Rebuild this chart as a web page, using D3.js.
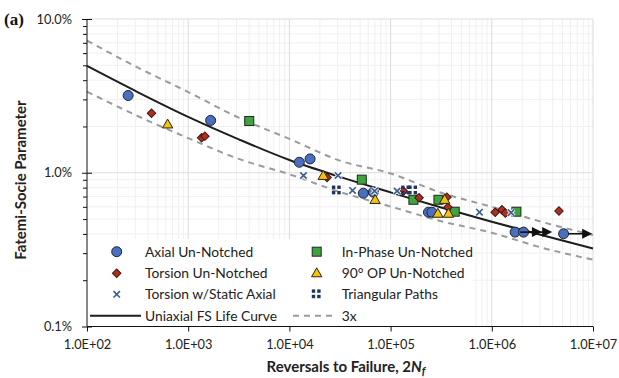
<!DOCTYPE html>
<html lang="en">
<head>
<meta charset="utf-8">
<script src="https://d3js.org/d3.v7.min.js"></script>
<style>
  body { margin: 0; background: #fff; }
  text { font-family: Lato, "Open Sans", sans-serif; fill: #222; }
</style>
</head>
<body>
<script>
var w = 619, h = 378;
var pLeft = 87, pRight = 593, pTop = 19, pBottom = 326.5;

// Uniaxial FS life curve and the 3x band
var curveN    = [1e2, 3.16e2, 1e3, 3.16e3, 1e4, 3.16e4, 1e5, 3.16e5, 1e6, 3.16e6, 1e7];
var curveFS   = [4.95, 3.35, 2.31, 1.65, 1.21, 0.94, 0.745, 0.594, 0.48, 0.392, 0.322];
var bandUpper = [7.24, 4.84, 3.35, 2.28, 1.66, 1.20, 0.99, 0.741, 0.60, 0.478, 0.394];
var bandLower = [3.37, 2.34, 1.68, 1.23, 0.977, 0.75, 0.603, 0.484, 0.407, 0.325, 0.272];

// test points: reversals 2Nf and Fatemi-Socie parameter (%)
var axialN  = [255, 1667, 12530, 16000, 53800, 67600, 236600, 255700, 1.70e6, 2.06e6, 5.12e6];
var axialFS = [3.18, 2.19, 1.17, 1.23, 0.736, 0.748, 0.554, 0.554, 0.411, 0.411, 0.401];

var inPhaseN  = [4010, 51900, 168000, 297000, 430000, 1.75e6];
var inPhaseFS = [2.17, 0.902, 0.667, 0.667, 0.558, 0.558];

var torsionN  = [434, 1358, 1462, 23560, 134000, 191000, 360000, 368000, 1.08e6, 1.26e6, 1.36e6, 4.61e6];
var torsionFS = [2.44, 1.69, 1.73, 0.932, 0.759, 0.688, 0.694, 0.597, 0.554, 0.574, 0.546, 0.564];

var opN  = [626, 21600, 70300, 293000, 342000, 373000];
var opFS = [2.06, 0.953, 0.665, 0.541, 0.666, 0.541];

var staticN  = [13770, 30270, 42080, 69500, 116000, 755000, 1.55e6];
var staticFS = [0.960, 0.960, 0.767, 0.761, 0.761, 0.554, 0.550];

var triN  = [29400, 142000, 167000];
var triFS = [0.767, 0.767, 0.767];

// run-outs (arrows)
var runStartN = [1.70e6, 2.06e6, 5.12e6];
var runEndN   = [3.13e6, 3.95e6, 9.8e6];
var runFS     = [0.411, 0.411, 0.401];

var xTicks = [1e2, 1e3, 1e4, 1e5, 1e6, 1e7];
var yTicks = [0.1, 1, 10];

var series = [
  {name: "Axial Un-Notched", type: "circle", N: axialN, v: axialFS},
  {name: "In-Phase Un-Notched", type: "square", N: inPhaseN, v: inPhaseFS},
  {name: "Torsion Un-Notched", type: "diamond", N: torsionN, v: torsionFS},
  {name: "90\u00b0 OP Un-Notched", type: "triangle", N: opN, v: opFS},
  {name: "Torsion w/Static Axial", type: "cross", N: staticN, v: staticFS},
  {name: "Triangular Paths", type: "tri", N: triN, v: triFS}
];

var x = d3.scaleLog().domain([1e2, 1e7]).range([pLeft, pRight]);
var y = d3.scaleLog().domain([0.1, 10]).range([pBottom, pTop]);

var svg = d3.select("body").append("svg")
  .attr("width", w).attr("height", h);

// grid
var minorX = [], minorY = [];
for (var d = 2; d < 7; d++) for (var k = 2; k < 10; k++) minorX.push(k * Math.pow(10, d));
for (var d2 = -1; d2 < 1; d2++) for (var k2 = 2; k2 < 10; k2++) minorY.push(k2 * Math.pow(10, d2));

var grid = svg.append("g");
grid.selectAll(".gx").data(minorX).enter().append("line")
  .attr("x1", x).attr("x2", x).attr("y1", pTop).attr("y2", pBottom)
  .attr("stroke", "#f0f0f0");
grid.selectAll(".gy").data(minorY).enter().append("line")
  .attr("x1", pLeft).attr("x2", pRight).attr("y1", y).attr("y2", y)
  .attr("stroke", "#f0f0f0");
grid.selectAll(".gX").data(xTicks.slice(1)).enter().append("line")
  .attr("x1", x).attr("x2", x).attr("y1", pTop).attr("y2", pBottom)
  .attr("stroke", "#dcdcdc");
grid.selectAll(".gY").data(yTicks.slice(1)).enter().append("line")
  .attr("x1", pLeft).attr("x2", pRight).attr("y1", y).attr("y2", y)
  .attr("stroke", "#dcdcdc");

// legend background (covers grid)
svg.append("rect").attr("x", pLeft + 1).attr("y", 239).attr("width", 385).attr("height", pBottom - 240)
  .attr("fill", "#fff");

// curves
var line = d3.line()
  .x(function(d) { return x(d[0]); })
  .y(function(d) { return y(d[1]); })
  .curve(d3.curveMonotoneX);

function pairs(v) { return curveN.map(function(n, i) { return [n, v[i]]; }); }

svg.append("path").attr("d", line(pairs(bandUpper)))
  .attr("fill", "none").attr("stroke", "#9b9b9b").attr("stroke-width", 2).attr("stroke-dasharray", "6,5");
svg.append("path").attr("d", line(pairs(bandLower)))
  .attr("fill", "none").attr("stroke", "#9b9b9b").attr("stroke-width", 2).attr("stroke-dasharray", "6,5");
svg.append("path").attr("d", line(pairs(curveFS)))
  .attr("fill", "none").attr("stroke", "#1e1e1e").attr("stroke-width", 2);

// markers
function drawMarker(g, type, cx, cy) {
  if (type === "circle") {
    g.append("circle").attr("cx", cx).attr("cy", cy).attr("r", 5)
      .attr("fill", "#4a6fbf").attr("stroke", "#1b2333").attr("stroke-width", 1);
  } else if (type === "square") {
    g.append("rect").attr("x", cx - 4.5).attr("y", cy - 4.5).attr("width", 9).attr("height", 9)
      .attr("fill", "#3fa33f").attr("stroke", "#1e2a1e").attr("stroke-width", 1);
  } else if (type === "diamond") {
    g.append("path").attr("d", d3.symbol(d3.symbolSquare, 36)())
      .attr("transform", "translate(" + cx + "," + cy + ") rotate(45)")
      .attr("fill", "#b32d1e").attr("stroke", "#3a1a14").attr("stroke-width", 1);
  } else if (type === "triangle") {
    g.append("path").attr("d", d3.symbol(d3.symbolTriangle, 46)())
      .attr("transform", "translate(" + cx + "," + (cy + 0.5) + ")")
      .attr("fill", "#f4c20d").attr("stroke", "#2b2410").attr("stroke-width", 1);
  } else if (type === "cross") {
    g.append("path").attr("d", "M-3.2,-3.2L3.2,3.2M-3.2,3.2L3.2,-3.2")
      .attr("transform", "translate(" + cx + "," + cy + ")")
      .attr("stroke", "#fff").attr("stroke-width", 3.4).attr("fill", "none");
    g.append("path").attr("d", "M-3.2,-3.2L3.2,3.2M-3.2,3.2L3.2,-3.2")
      .attr("transform", "translate(" + cx + "," + cy + ")")
      .attr("stroke", "#3f5d8f").attr("stroke-width", 1.7).attr("fill", "none");
  } else if (type === "tri") {
    var s = 3.4, gap = 1;
    [[-1, -1], [0, -1], [-1, 0], [0, 0]].forEach(function(o) {
      g.append("rect").attr("x", cx + o[0] * (s + gap) + (o[0] === 0 ? gap / 2 : -gap / 2))
        .attr("y", cy + o[1] * (s + gap) + (o[1] === 0 ? gap / 2 : -gap / 2))
        .attr("width", s).attr("height", s).attr("fill", "#1f355e");
    });
  }
}

var pts = svg.append("g");
series.forEach(function(s) {
  s.N.forEach(function(n, i) { drawMarker(pts, s.type, x(n), y(s.v[i])); });
});

// run-out arrows
var arr = svg.append("g");
runStartN.forEach(function(n, i) {
  var x0 = x(n) + 5, x1 = x(runEndN[i]), yy = y(runFS[i]);
  arr.append("line").attr("x1", x0).attr("x2", x1 - 8).attr("y1", yy).attr("y2", yy)
    .attr("stroke", "#111").attr("stroke-width", 1.6);
  arr.append("path").attr("d", "M" + x1 + "," + yy + "L" + (x1 - 10) + "," + (yy - 5) + "L" + (x1 - 10) + "," + (yy + 5) + "Z")
    .attr("fill", "#111");
});

// axes
var fmtX = function(d) {
  var e = Math.round(Math.log10(d));
  return "1.0E+" + (e < 10 ? "0" : "") + e;
};
var xAxis = d3.axisBottom(x).tickValues(xTicks).tickFormat(fmtX).tickSizeInner(5).tickSizeOuter(0).tickPadding(8);
var gx = svg.append("g").attr("transform", "translate(0," + pBottom + ")").call(xAxis);
gx.select(".domain").attr("stroke", "#111").attr("d", "M" + pLeft + ",0H" + pRight);
gx.selectAll(".tick line").attr("stroke", "#111");
gx.selectAll("text").attr("font-family", "Lato, sans-serif").attr("font-size", 12.8).attr("fill", "#222");

var yMinor = d3.axisLeft(y).tickValues(minorY).tickFormat("").tickSizeInner(4).tickSizeOuter(0);
var gym = svg.append("g").attr("transform", "translate(" + pLeft + ",0)").call(yMinor);
gym.select(".domain").remove();
gym.selectAll(".tick line").attr("stroke", "#111");

var yAxis = d3.axisLeft(y).tickValues(yTicks).tickFormat(function(d) { return d.toFixed(1) + "%"; })
  .tickSizeInner(5).tickSizeOuter(0).tickPadding(10);
var gy = svg.append("g").attr("transform", "translate(" + pLeft + ",0)").call(yAxis);
gy.select(".domain").attr("stroke", "#111").attr("d", "M0," + pBottom + "V" + pTop);
gy.selectAll(".tick line").attr("stroke", "#111").attr("x2", -5).attr("x1", 5);
gy.selectAll("text").attr("font-family", "Lato, sans-serif").attr("font-size", 12.8).attr("fill", "#222");

// titles
svg.append("text").attr("x", 4).attr("y", 25)
  .style("font-family", "'Liberation Serif', 'DejaVu Serif', serif").style("font-weight", "bold")
  .style("font-size", "17px").style("fill", "#111").text("(a)");

svg.append("text").attr("transform", "translate(26,180) rotate(-90)")
  .attr("text-anchor", "middle").style("font-weight", "bold").style("font-size", "15px")
  .text("Fatemi-Socie Parameter");

var xt = svg.append("text").attr("x", 346).attr("y", 372).attr("text-anchor", "middle")
  .style("font-weight", "bold").style("font-size", "15px");
xt.append("tspan").text("Reversals to Failure, 2");
xt.append("tspan").style("font-style", "italic").text("N");
xt.append("tspan").style("font-style", "italic").style("font-size", "11px").attr("dy", 3).text("f");

// legend
var legendRows = [251.7, 273.3, 294.3];
var legCols = [{mx: 116.7, tx: 145}, {mx: 316.7, tx: 341.7}];
var leg = svg.append("g");
series.forEach(function(s, i) {
  var col = legCols[i % 2], ry = legendRows[Math.floor(i / 2)];
  drawMarker(leg, s.type, col.mx, ry);
  leg.append("text").attr("x", col.tx).attr("y", ry).attr("dy", "0.35em")
    .style("font-size", "13.8px").text(s.name);
});
var ly = 315.7;
leg.append("line").attr("x1", 90).attr("x2", 141).attr("y1", ly).attr("y2", ly)
  .attr("stroke", "#1e1e1e").attr("stroke-width", 2);
leg.append("text").attr("x", 145).attr("y", ly).attr("dy", "0.35em").style("font-size", "13.8px")
  .text("Uniaxial FS Life Curve");
leg.append("line").attr("x1", 293).attr("x2", 337).attr("y1", ly).attr("y2", ly)
  .attr("stroke", "#9b9b9b").attr("stroke-width", 2).attr("stroke-dasharray", "6,5");
leg.append("text").attr("x", 341.7).attr("y", ly).attr("dy", "0.35em").style("font-size", "13.8px")
  .text("3x");
</script>
</body>
</html>
